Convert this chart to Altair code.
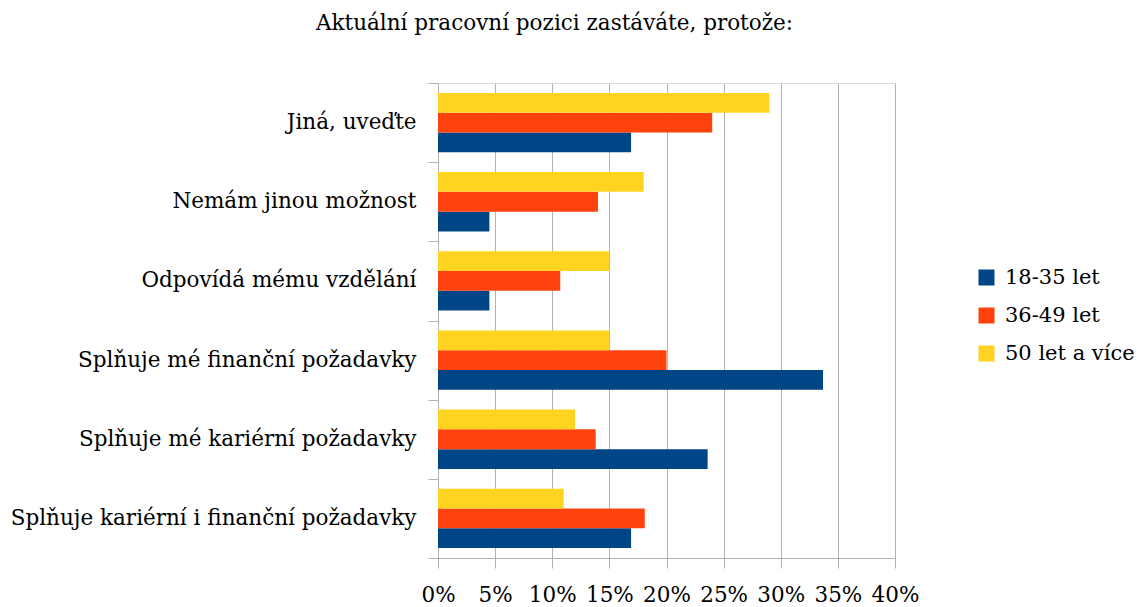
import altair as alt
import pandas as pd

# Survey answers (top to bottom) and age groups
categories = [
    "Jiná, uveďte",
    "Nemám jinou možnost",
    "Odpovídá mému vzdělání\u00a0",
    "Splňuje mé finanční požadavky",
    "Splňuje mé kariérní požadavky",
    "Splňuje kariérní i finanční požadavky",
]
groups = ["18-35 let", "36-49 let", "50 let a více"]

# Share of respondents in each group, in percent
pct_18_35 = [16.9, 4.5, 4.5, 33.7, 23.6, 16.9]
pct_36_49 = [24.0, 14.0, 10.7, 20.0, 13.8, 18.1]
pct_50_plus = [29.0, 18.0, 15.0, 15.0, 12.0, 11.0]

x_ticks = [0, 0.05, 0.10, 0.15, 0.20, 0.25, 0.30, 0.35, 0.40]
colors = ["#004586", "#ff420e", "#ffd320"]

rows = []
for group, values in zip(groups, [pct_18_35, pct_36_49, pct_50_plus]):
    for cat, v in zip(categories, values):
        rows.append({"odpoved": cat, "skupina": group, "podil": v / 100})
df = pd.DataFrame(rows)

FONT = "DejaVu Serif"
GRID = "#b3b3b3"
SIZE = 21.5

chart = (
    alt.Chart(df)
    .mark_bar()
    .encode(
        y=alt.Y(
            "odpoved:N",
            sort=categories,
            scale=alt.Scale(paddingInner=0, paddingOuter=0),
            axis=alt.Axis(
                title=None,
                tickBand="extent",
                tickSize=10,
                tickColor=GRID,
                domainColor=GRID,
                labelFont=FONT,
                labelFontSize=SIZE,
                labelColor="black",
                labelPadding=12,
                labelLimit=0,
            ),
        ),
        x=alt.X(
            "podil:Q",
            scale=alt.Scale(domain=[0, 0.4], nice=False),
            axis=alt.Axis(
                title=None,
                values=x_ticks,
                format=".0%",
                grid=True,
                gridColor=GRID,
                tickSize=10,
                tickColor=GRID,
                domainColor=GRID,
                labelFont=FONT,
                labelFontSize=SIZE,
                labelColor="black",
                labelPadding=16,
                labelFlush=False,
            ),
        ),
        yOffset=alt.YOffset(
            "skupina:N",
            sort=groups[::-1],
            scale=alt.Scale(domain=groups[::-1], paddingInner=0, paddingOuter=0.5),
        ),
        color=alt.Color(
            "skupina:N",
            scale=alt.Scale(domain=groups, range=colors),
            legend=alt.Legend(
                title=None,
                orient="none",
                legendX=538,
                legendY=184,
                padding=0,
                symbolType="square",
                symbolSize=256,
                symbolStrokeWidth=0,
                labelFont=FONT,
                labelFontSize=21,
                labelColor="black",
                labelOffset=8,
                rowPadding=16,
            ),
        ),
    )
    .properties(
        width=457,
        height=475,
        title=alt.TitleParams(
            "Aktuální pracovní pozici zastáváte, protože:",
            font=FONT,
            fontSize=SIZE,
            fontWeight="normal",
            color="black",
            anchor="middle",
            frame="group",
            dx=-112,
            baseline="alphabetic",
            offset=21,
        ),
        autosize=alt.AutoSizeParams(type="none"),
        padding={"left": 438, "top": 83, "right": 250, "bottom": 49},
    )
    .configure_view(stroke=GRID)
    .configure(background="white")
)

chart.save("out.html", embed_options={"renderer": "svg", "actions": False})
